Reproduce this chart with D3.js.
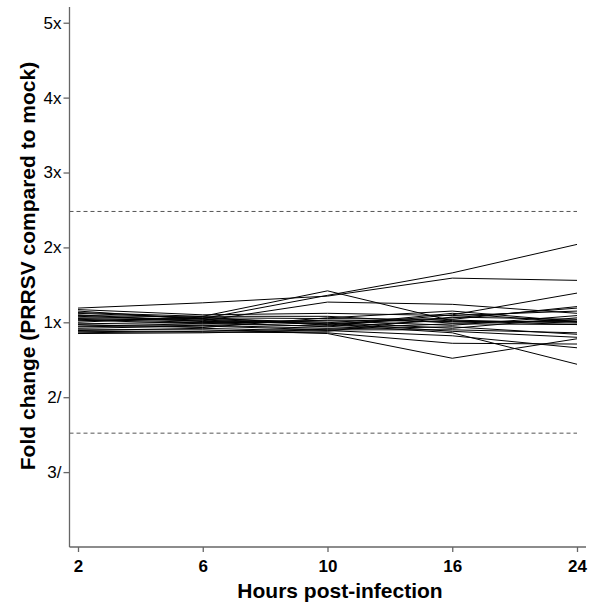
<!DOCTYPE html>
<html>
<head>
<meta charset="utf-8">
<script src="https://cdn.jsdelivr.net/npm/d3@7"></script>
<style>
  body { margin: 0; background: #fff; }
  svg { display: block; font-family: "Liberation Sans", Arial, Helvetica, sans-serif; }
</style>
</head>
<body>
<div id="container"></div>
<script>
// Horas pós-infecção (eixo categórico)
const hours = ['2', '6', '10', '16', '24'];

// Fold change assinado: positivo = aumento (nx), negativo = redução (n/)
const series = [
  [1.02, 1.05, 1.36, 1.66, 2.04],
  [1.19, 1.26, 1.35, 1.59, 1.56],
  [1.00, 1.08, 1.42, 1.02, -1.03],
  [1.05, 1.02, 1.27, 1.24, 1.12],
  [-1.05, -1.02, -1.05, 1.10, 1.39],
  [-1.10, -1.10, -1.15, -1.48, -1.22],
  [-1.12, -1.13, -1.14, -1.28, -1.29],
  [1.08, 1.03, -1.03, -1.14, -1.56],
  [1.17, 1.10, 1.12, 1.09, 1.15],
  [1.12, 1.06, 1.05, 1.04, 1.21],
  [1.15, 1.04, -1.02, 1.06, 1.19],
  [1.10, 1.01, 1.02, -1.04, 1.09],
  [1.06, 1.05, 1.00, -1.08, 1.06],
  [1.03, -1.02, 1.03, 1.01, 1.01],
  [-1.02, 1.00, -1.06, 1.03, -1.01],
  [-1.06, -1.04, -1.08, -1.02, -1.03],
  [1.09, 1.07, -1.04, 1.12, 1.00],
  [-1.08, -1.05, -1.10, -1.10, -1.14],
  [-1.14, -1.12, -1.09, -1.06, -1.16],
  [-1.15, -1.14, -1.11, -1.18, -1.34],
  [1.04, 1.00, -1.01, -1.12, -1.20],
  [-1.03, -1.07, 1.06, 1.15, 1.01],
  [1.13, 1.08, 1.08, -1.01, 1.03],
  [-1.11, -1.08, -1.12, 1.07, 1.04]
];

// Limiares tracejados (2.5x e 2.5/)
const thresholds = [2.48, -2.48];

// Ticks do eixo Y
const yTicks = [5, 4, 3, 2, 1, -2, -3];
const yTickLabels = ['5x', '4x', '3x', '2x', '1x', '2/', '3/'];

const width = 598;
const height = 603;

// Converte fold change assinado em posição linear (1x = 0, 2x = 1, 2/ = -1)
const foldPos = f => (f > 0 ? f - 1 : f + 1);

const svg = d3.select('#container')
  .append('svg')
  .attr('width', width)
  .attr('height', height);

const x = d3.scalePoint().domain(hours).range([78, 577]);
const y = d3.scaleLinear().domain([-3, 4.21]).range([547, 7]);

const axisColor = '#666';
const xLeft = 69.5;
const xRight = 586;

// Linhas dos limiares
svg.append('g')
  .selectAll('line')
  .data(thresholds)
  .join('line')
  .attr('x1', xLeft)
  .attr('x2', x('24'))
  .attr('y1', d => y(foldPos(d)))
  .attr('y2', d => y(foldPos(d)))
  .attr('stroke', '#555')
  .attr('stroke-width', 1)
  .attr('stroke-dasharray', '4,3');

// Linhas de cada gene
const line = d3.line()
  .x((d, i) => x(hours[i]))
  .y(d => y(foldPos(d)));

svg.append('g')
  .selectAll('path')
  .data(series)
  .join('path')
  .attr('d', line)
  .attr('fill', 'none')
  .attr('stroke', '#000')
  .attr('stroke-width', 1);

// Eixo Y
const yAxis = svg.append('g')
  .attr('transform', `translate(${xLeft},0)`)
  .call(d3.axisLeft(y)
    .tickValues(yTicks.map(foldPos))
    .tickFormat((d, i) => yTickLabels[i])
    .tickSize(6)
    .tickSizeOuter(0));
yAxis.select('.domain').attr('d', `M0,${y.range()[1]}V${y.range()[0]}`);
yAxis.selectAll('path, line').attr('stroke', axisColor).attr('stroke-width', 1.3);
yAxis.selectAll('text')
  .attr('fill', '#000')
  .style('font-size', '17px')
  .attr('x', -8);

// Eixo X
const xAxis = svg.append('g')
  .attr('transform', `translate(0,${y.range()[0]})`)
  .call(d3.axisBottom(x).tickSize(5).tickSizeOuter(0));
xAxis.select('.domain').attr('d', `M${xLeft},0H${xRight}`);
xAxis.selectAll('path, line').attr('stroke', axisColor).attr('stroke-width', 1.3);
xAxis.selectAll('text')
  .attr('fill', '#000')
  .attr('font-weight', 'bold')
  .style('font-size', '17px')
  .attr('dy', null)
  .attr('y', 25);

// Títulos dos eixos
svg.append('text')
  .attr('x', 340)
  .attr('y', 598)
  .attr('text-anchor', 'middle')
  .attr('font-weight', 'bold')
  .style('font-size', '21px')
  .text('Hours post-infection');

svg.append('text')
  .attr('transform', 'translate(35,266) rotate(-90)')
  .attr('text-anchor', 'middle')
  .attr('font-weight', 'bold')
  .style('font-size', '21px')
  .text('Fold change (PRRSV compared to mock)');
</script>
</body>
</html>
